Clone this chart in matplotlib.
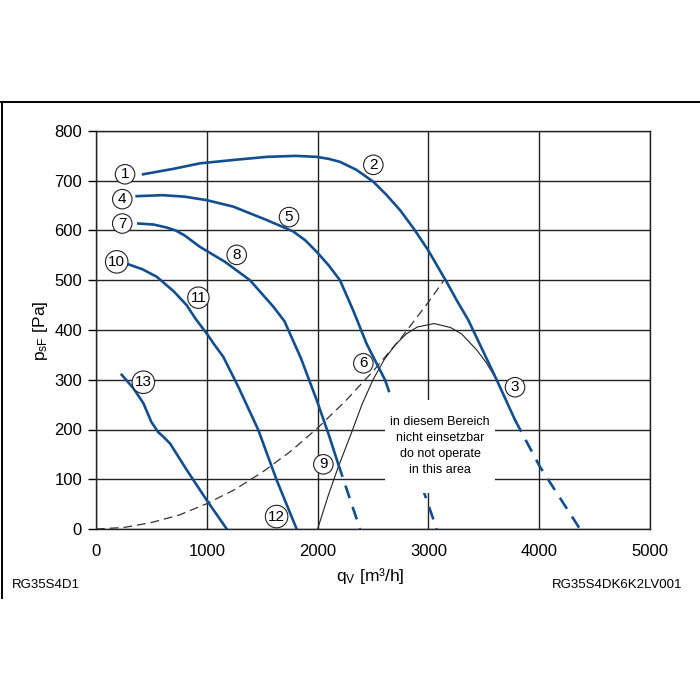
import matplotlib
matplotlib.use("Agg")
import matplotlib.pyplot as plt
from matplotlib.patches import Rectangle
from matplotlib.lines import Line2D

plt.rcParams['font.family'] = ['Liberation Sans', 'DejaVu Sans']
plt.rcParams['mathtext.fontset'] = 'custom'
plt.rcParams['mathtext.rm'] = 'Liberation Sans'
plt.rcParams['mathtext.default'] = 'regular'

blue = '#134f8e'

# curve 1-2-3 (solid part, then dashed part)
c1_x = [425, 700, 939, 1250, 1541, 1800, 1992, 2100, 2202, 2350, 2503, 2620, 2744, 2870, 2996, 3171, 3255, 3360, 3616, 3782]
c1_y = [713, 724, 735, 742, 748, 750, 748, 744, 738, 722, 698, 672, 641, 603, 561, 494, 460, 420, 300, 219]
c1d_x = [3782, 4007, 4368]
c1d_y = [219, 125, 0]

# curve 4-5-6
c4_x = [367, 600, 800, 999, 1239, 1541, 1781, 1890, 1992, 2100, 2202, 2320, 2443, 2548, 2608]
c4_y = [669, 671, 668, 661, 648, 621, 598, 580, 557, 530, 500, 440, 372, 326, 300]
c4d_x = [2608, 2969, 3075]
c4d_y = [300, 68, 0]

# curve 7-8-9
c7_x = [382, 520, 638, 720, 800, 939, 1164, 1390, 1600, 1700, 1766, 1850, 1992, 2100, 2187]
c7_y = [614, 612, 606, 600, 590, 567, 537, 500, 447, 418, 385, 343, 259, 190, 130]
c7d_x = [2187, 2383]
c7d_y = [130, 0]

# curve 10-11-12
c10_x = [292, 420, 548, 700, 818, 900, 999, 1070, 1149, 1284, 1465, 1631, 1811]
c10_y = [532, 522, 507, 478, 450, 422, 393, 370, 346, 286, 199, 98, 0]

# curve 13
c13_x = [232, 337, 427, 500, 560, 610, 668, 818, 999, 1180]
c13_y = [310, 283, 253, 215, 195, 185, 172, 119, 58, 0]

# limit curve (thin black)
lim_x = [2000, 2100, 2187, 2300, 2400, 2500, 2600, 2700, 2800, 2900, 3050, 3200, 3300, 3436, 3520, 3616]
lim_y = [0, 70, 125, 190, 250, 300, 340, 370, 392, 406, 413, 405, 392, 360, 335, 300]

# system line (thin dashed)
sys_x = [0, 250, 500, 750, 1000, 1250, 1500, 1750, 2000, 2250, 2500, 2750, 3000, 3140]
sys_y = [0, 3, 13, 28, 51, 79, 114, 155, 203, 257, 317, 383, 456, 500]

# circled labels
lab_txt = ['1', '2', '3', '4', '5', '6', '7', '8', '9', '10', '11', '12', '13']
lab_x = [262, 2503, 3782, 237, 1742, 2413, 237, 1270, 2052, 187, 924, 1630, 427]
lab_y = [713, 732, 285, 663, 627, 333, 614, 551, 130, 537, 465, 25, 295]

fig = plt.figure(figsize=(7, 7), dpi=100)
ax = fig.add_axes([96 / 700, 1 - 529 / 700, 554 / 700, 398 / 700])
ax.set_xlim(0, 5000)
ax.set_ylim(0, 800)
ax.set_xticks(range(0, 5001, 1000))
ax.set_yticks(range(0, 801, 100))
ax.grid(True, color='#222222', linewidth=1.0)
ax.set_axisbelow(True)
for s in ax.spines.values():
    s.set_color('#222222')
    s.set_linewidth(1.0)
ax.tick_params(axis='y', length=6, width=1, pad=4, labelsize=12)
ax.tick_params(axis='x', length=0, pad=11, labelsize=12)

ax.plot(sys_x, sys_y, color='#333333', lw=0.9, ls=(0, (7, 4)), zorder=3)
ax.plot(lim_x, lim_y, color='#222222', lw=0.8, zorder=3)

dash = (0, (5, 3.5))
ax.plot(c1_x, c1_y, color=blue, lw=1.9, zorder=4)
ax.plot(c1d_x, c1d_y, color=blue, lw=1.9, ls=dash, zorder=4)
ax.plot(c4_x, c4_y, color=blue, lw=1.9, zorder=4)
ax.plot(c4d_x, c4d_y, color=blue, lw=1.9, ls=dash, zorder=4)
ax.plot(c7_x, c7_y, color=blue, lw=1.9, zorder=4)
ax.plot(c7d_x, c7d_y, color=blue, lw=1.9, ls=dash, zorder=4)
ax.plot(c10_x, c10_y, color=blue, lw=1.9, zorder=4)
ax.plot(c13_x, c13_y, color=blue, lw=1.9, zorder=4)

# white area with note
ax.add_patch(Rectangle((2608, 73), 993, 186, facecolor='white', edgecolor='none', zorder=5))
ax.text(3105, 167, 'in diesem Bereich\nnicht einsetzbar\ndo not operate\nin this area',
        ha='center', va='center', fontsize=9, linespacing=1.45, zorder=6)

for t, x, y in zip(lab_txt, lab_x, lab_y):
    ax.text(x, y, t, ha='center', va='center', fontsize=11, zorder=7,
            bbox=dict(boxstyle='circle,pad=0.18', facecolor='white', edgecolor='#222222', lw=0.8))

fig.text(41 / 700, 1 - 331 / 700, 'p$_{sF}$ [Pa]', rotation=90, ha='center', va='center', fontsize=12.5)
fig.text(370 / 700, 1 - 576 / 700, 'q$_V$ [m\u00b3/h]', ha='center', va='center', fontsize=12.5)
fig.text(12 / 700, 1 - 585 / 700, 'RG35S4D1', ha='left', va='center', fontsize=9.5)
fig.text(682 / 700, 1 - 585 / 700, 'RG35S4DK6K2LV001', ha='right', va='center', fontsize=9.5)

# page frame
fig.add_artist(Line2D([0, 1], [1 - 102 / 700, 1 - 102 / 700], color='black', lw=1.4))
fig.add_artist(Line2D([1.5 / 700, 1.5 / 700], [1 - 102 / 700, 1 - 598 / 700], color='black', lw=1.4))

fig.savefig('out.png', dpi=100, facecolor='white')
